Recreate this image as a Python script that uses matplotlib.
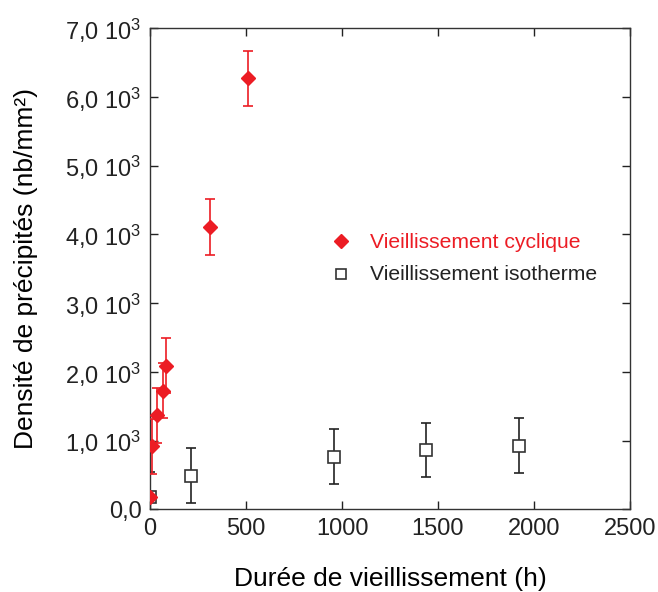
import numpy as np
import matplotlib
matplotlib.use("Agg")
import matplotlib.pyplot as plt

plt.rcParams['font.family'] = ['Liberation Sans', 'DejaVu Sans']
plt.rcParams['mathtext.fontset'] = 'custom'
plt.rcParams['mathtext.rm'] = 'Liberation Sans'
plt.rcParams['mathtext.it'] = 'Liberation Sans:italic'

# data
cyc_t = [0, 10, 38, 70, 84, 315, 512]
cyc_d = [180, 920, 1372, 1726, 2086, 4104, 6273]
cyc_err = [0, 400, 400, 400, 400, 405, 400]

iso_t = [0, 216, 960, 1440, 1920]
iso_d = [180, 489, 766, 863, 926]
iso_err = [370, 400, 398, 400, 405]

yticks = [0, 1000, 2000, 3000, 4000, 5000, 6000, 7000]
ylabels = ['0,0', r'1,0 10$^3$', r'2,0 10$^3$', r'3,0 10$^3$', r'4,0 10$^3$',
           r'5,0 10$^3$', r'6,0 10$^3$', r'7,0 10$^3$']
xticks = [0, 500, 1000, 1500, 2000, 2500]

red = '#ec1c24'

fig = plt.figure(figsize=(6.58, 5.92), dpi=100)
ax = fig.add_axes([0.228, 0.1397, 0.7294, 0.8125])

ax.errorbar(iso_t, iso_d, yerr=iso_err, fmt='s', ms=8, mfc='white', mec='#333333',
            mew=1.2, ecolor='#222222', elinewidth=1.2, capsize=3.5, capthick=1.2,
            zorder=2)
ax.errorbar(cyc_t, cyc_d, yerr=cyc_err, fmt='D', ms=7, mfc=red, mec=red,
            ecolor=red, elinewidth=1.2, capsize=3.5, capthick=1.2, zorder=3)

ax.set_xlim(0, 2500)
ax.set_ylim(0, 7000)
ax.set_xticks(xticks)
ax.set_yticks(yticks)
ax.set_yticklabels(ylabels)
ax.tick_params(direction='in', length=6, width=1, top=True, right=True,
               labelsize=17, pad=6, colors='#222222')
for s in ax.spines.values():
    s.set_linewidth(1)
    s.set_color('#333333')

ax.set_xlabel('Durée de vieillissement (h)', fontsize=19, labelpad=20)
ax.set_ylabel('Densité de précipités (nb/mm²)', fontsize=19, labelpad=20)

# legend drawn as markers plus text
ax.plot([997], [3900], 'D', ms=7, color=red)
ax.text(1145, 3880, 'Vieillissement cyclique', color=red, fontsize=15.2,
        va='center')
ax.plot([997], [3430], 's', ms=7.5, mfc='white', mec='#333333', mew=1.2)
ax.text(1145, 3415, 'Vieillissement isotherme', color='#222222', fontsize=15.2,
        va='center')

fig.savefig('out.png', dpi=100)
